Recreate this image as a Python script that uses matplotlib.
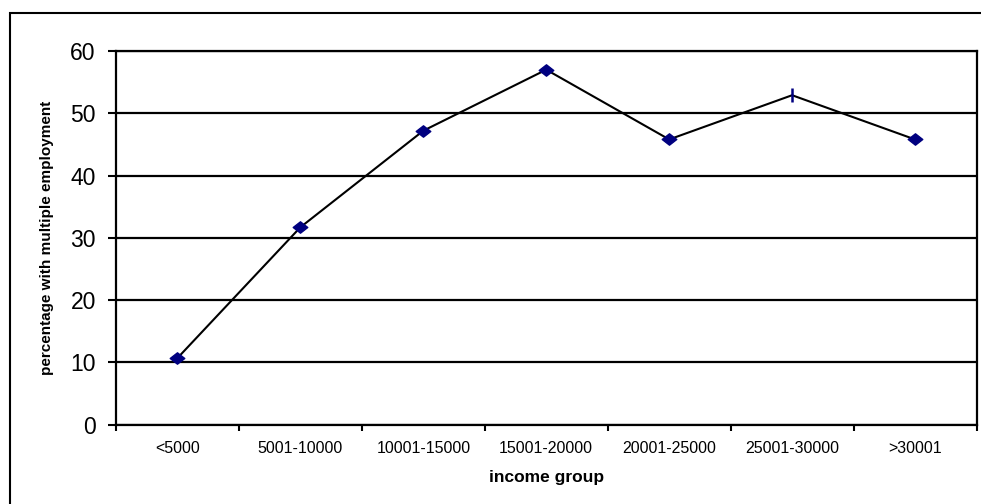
import matplotlib
matplotlib.use("Agg")
import matplotlib.pyplot as plt
from matplotlib.path import Path
from matplotlib.patches import Rectangle
import numpy as np

plt.rcParams['font.family'] = ['Liberation Sans', 'DejaVu Sans']

# Share of workers holding more than one job, by income group
income_groups = ["<5000", "5001-10000", "10001-15000", "15001-20000",
                 "20001-25000", "25001-30000", ">30001"]
pct_multiple = [10.7, 31.7, 47.2, 57.0, 45.8, 52.9, 45.8]
y_ticks = [0, 10, 20, 30, 40, 50, 60]

NAVY = "#000080"
W, H = 981, 504
fig = plt.figure(figsize=(W / 100, H / 100), dpi=100)

# outer chart frame (runs off the right and bottom edges)
fig.patches.append(Rectangle((10 / W, -0.2), 1.5, 1 - 13 / H + 0.2,
                             transform=fig.transFigure, fill=False,
                             edgecolor="black", linewidth=1.5))

left, right, top, bottom = 116, 976.5, 51, 424.7
ax = fig.add_axes([left / W, 1 - bottom / H, (right - left) / W, (bottom - top) / H])

x = np.arange(len(income_groups))

# wide diamond marker
diamond = Path([(-1, 0), (0, 0.78), (1, 0), (0, -0.78), (-1, 0)],
               [Path.MOVETO, Path.LINETO, Path.LINETO, Path.LINETO, Path.CLOSEPOLY])

ax.plot(x, pct_multiple, color="black", linewidth=1.5, zorder=3)
diamond_idx = [i for i in range(len(x)) if i != 5]
ax.plot(x[diamond_idx], np.array(pct_multiple)[diamond_idx], linestyle="none",
        marker=diamond, markersize=10.5, markerfacecolor=NAVY,
        markeredgecolor=NAVY, zorder=4)
ax.plot(x[5], pct_multiple[5], linestyle="none", marker="|", markersize=10.5,
        markeredgewidth=1.8, color=NAVY, zorder=4)

ax.set_xlim(-0.5, len(income_groups) - 0.5)
ax.set_ylim(0, 60)

# y axis
ax.set_yticks(y_ticks)
ax.yaxis.grid(True, color="black", linewidth=1.6)
ax.set_axisbelow(True)
ax.tick_params(axis="y", direction="out", length=5.5, width=1.5,
               labelsize=16.5, pad=9)

# x axis: ticks at group boundaries, labels centred in each group
ax.set_xticks(np.arange(-0.5, len(income_groups)), labels=[])
ax.set_xticks(x, labels=income_groups, minor=True)
ax.tick_params(axis="x", which="major", direction="out", length=4, width=1.5)
ax.tick_params(axis="x", which="minor", length=0, labelsize=11.5, pad=12)

for side in ["left", "bottom", "top", "right"]:
    ax.spines[side].set_linewidth(1.6)
    ax.spines[side].set_color("black")

ax.set_xlabel("income group", fontsize=12.5, fontweight="bold", labelpad=10)
ax.xaxis.label.set_fontstretch("expanded")
xl = ax.xaxis.label
xl.set_text("income group")
ax.set_ylabel("percentage with multiple employment", fontsize=11,
              fontweight="bold", labelpad=12)

fig.savefig("out.png", dpi=100)
